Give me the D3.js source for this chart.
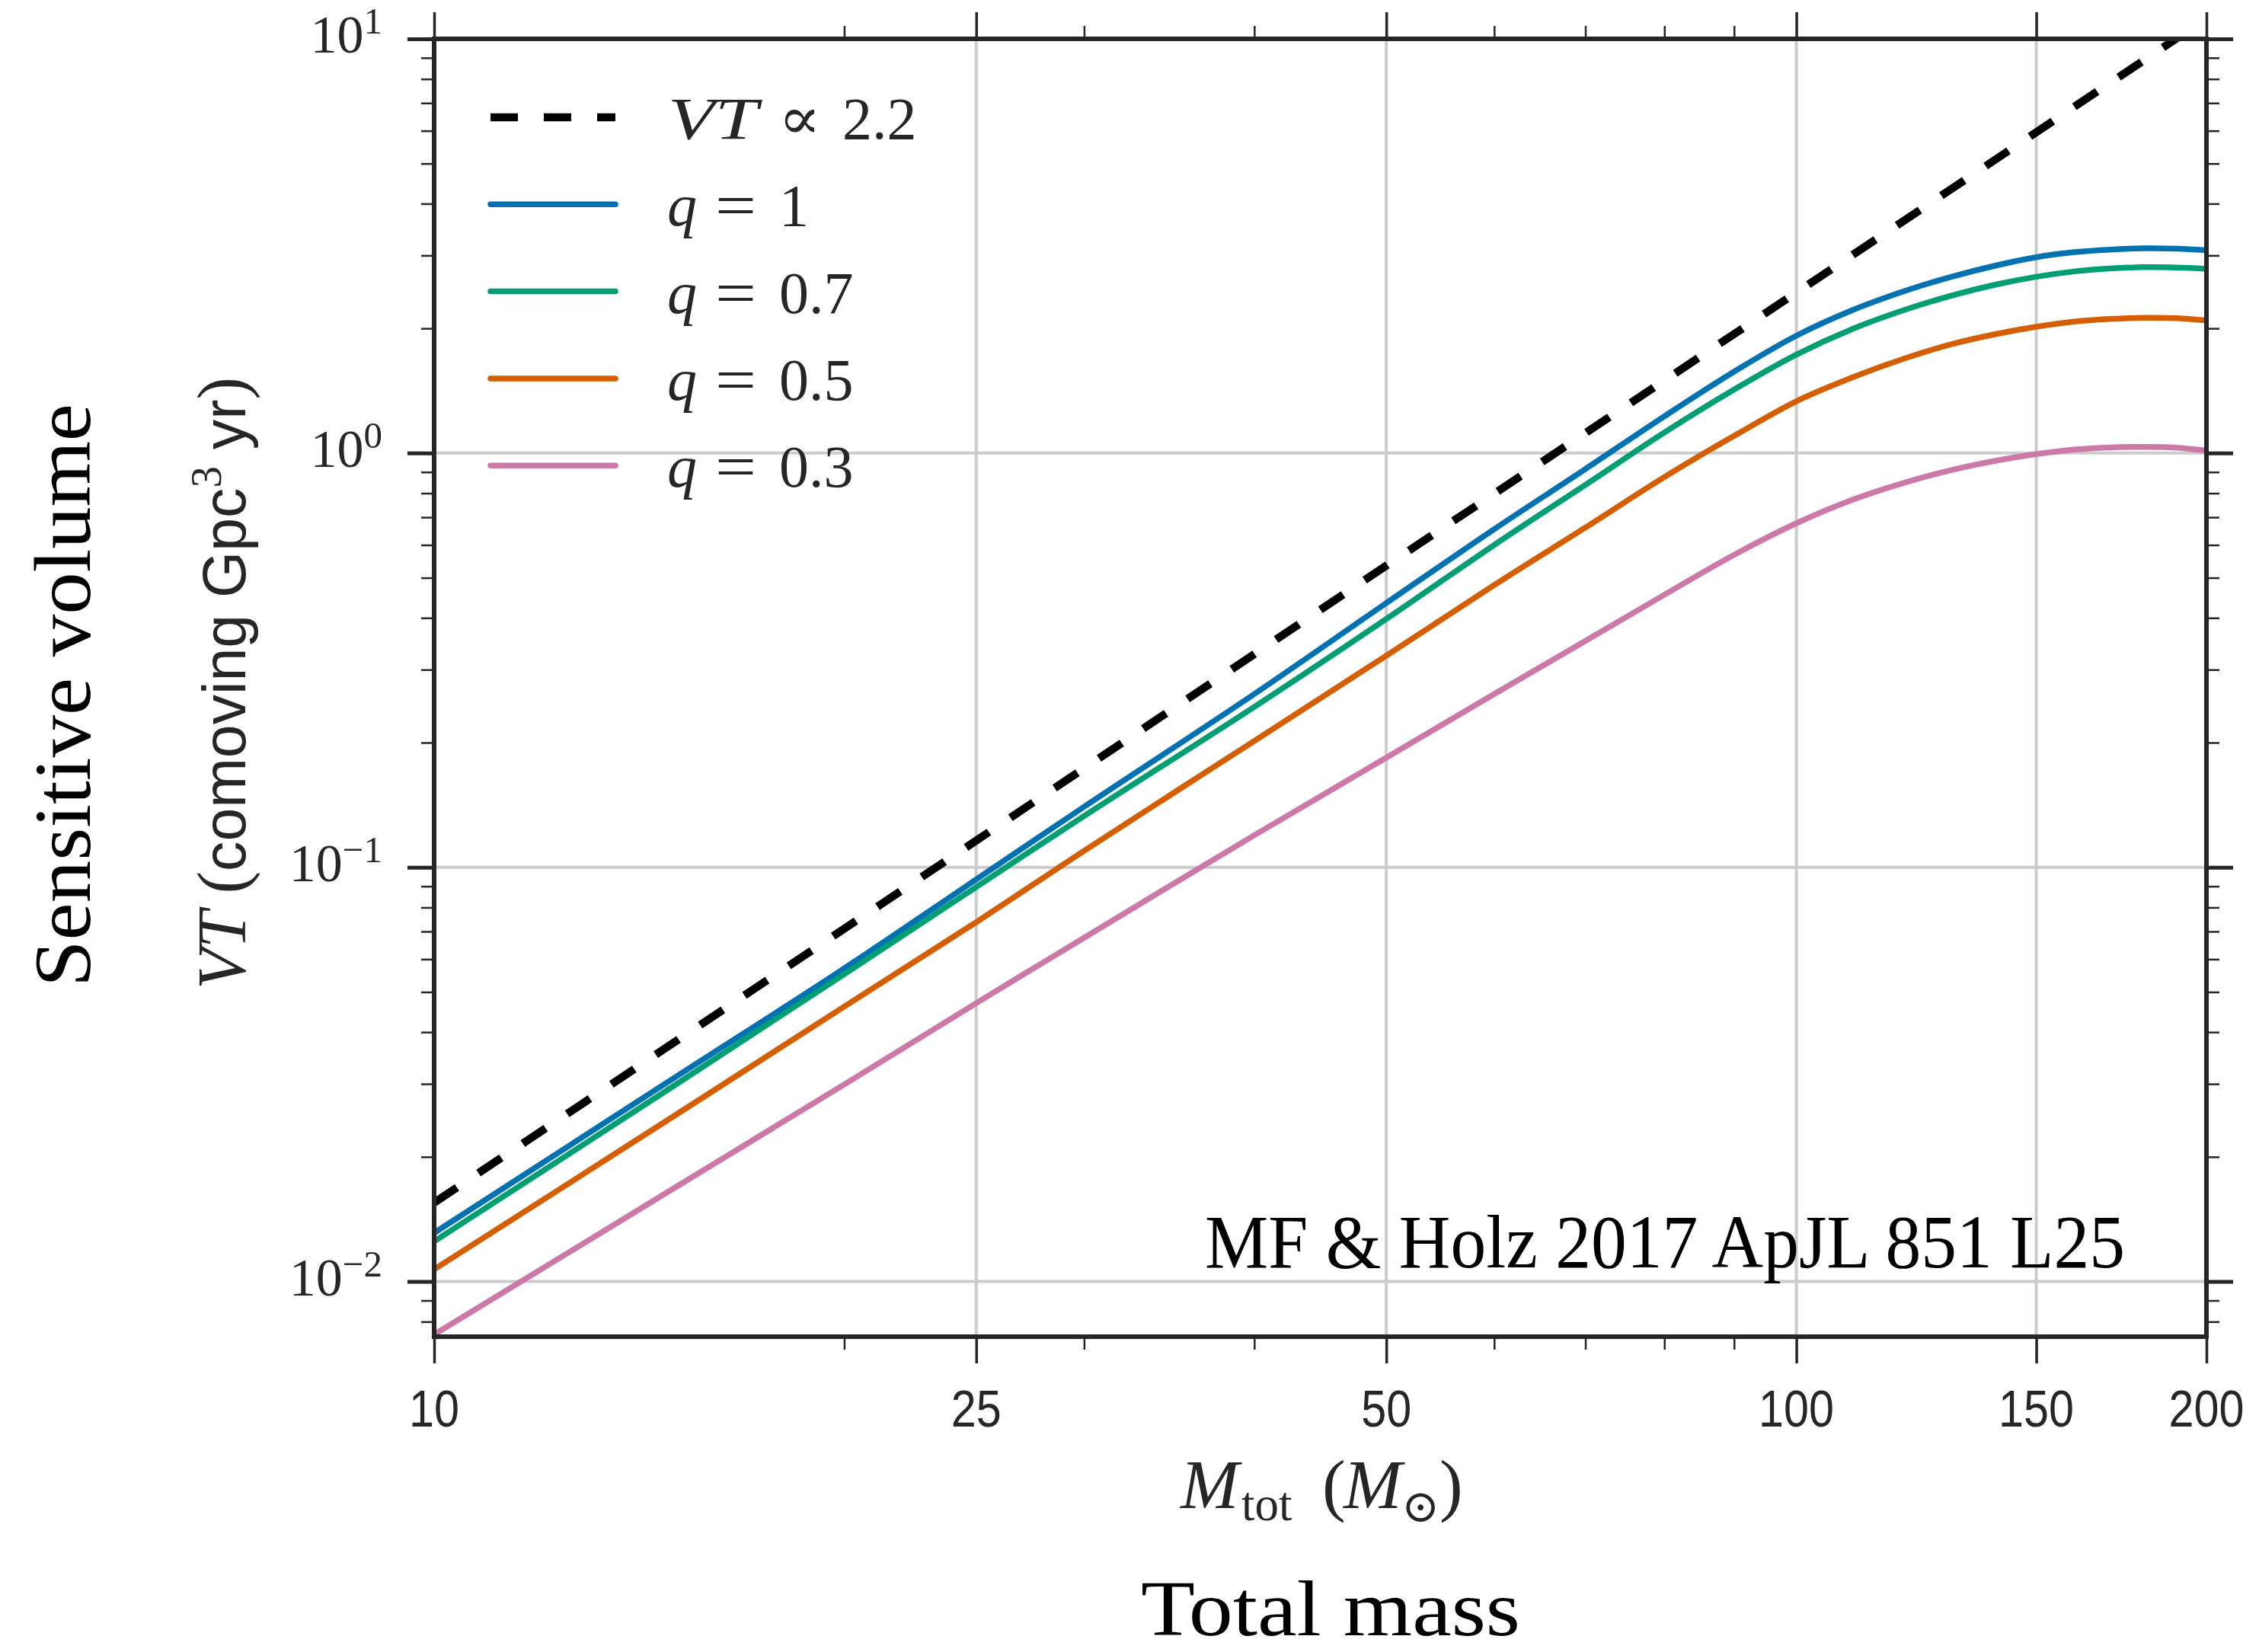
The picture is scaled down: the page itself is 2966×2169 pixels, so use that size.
<!DOCTYPE html>
<html>
<head>
<meta charset="utf-8">
<script src="https://cdn.jsdelivr.net/npm/d3@7"></script>
<style>
  body { margin: 0; background: #fff; }
  svg { display: block; }
</style>
</head>
<body>
<div id="chart"></div>
<script>
// Total mass grid (solar masses) and VT (comoving Gpc^3 yr)
const masses = [10, 15, 20, 25, 30, 40, 50, 60, 70, 80, 90, 100, 110, 120, 130, 140, 150, 160, 170, 180, 190, 200];
const vtQ1  = [0.0131, 0.031, 0.057, 0.0935, 0.140, 0.262, 0.4345, 0.655, 0.915, 1.227, 1.572, 1.920, 2.215, 2.46, 2.665, 2.835, 2.97, 3.055, 3.10, 3.12, 3.115, 3.09];
const vtQ07 = [0.0125, 0.0297, 0.0552, 0.0896, 0.133, 0.244, 0.3977, 0.600, 0.838, 1.121, 1.423, 1.728, 1.995, 2.215, 2.40, 2.55, 2.665, 2.745, 2.79, 2.81, 2.805, 2.785];
const vtQ05 = [0.0107, 0.0251, 0.0461, 0.0737, 0.1096, 0.2019, 0.3243, 0.48, 0.661, 0.875, 1.100, 1.334, 1.524, 1.691, 1.832, 1.937, 2.018, 2.077, 2.107, 2.121, 2.116, 2.089];
const vtQ03 = [0.00745, 0.0168, 0.0299, 0.0470, 0.0676, 0.1195, 0.184, 0.262, 0.352, 0.455, 0.568, 0.677, 0.772, 0.848, 0.910, 0.958, 0.994, 1.02, 1.032, 1.035, 1.031, 1.014];

// reference power law, VT ∝ M^2.2
const refMasses = [10, 25, 50, 100, 200];
const refVT = [0.0155, 0.116, 0.535, 2.44, 11.2];

const seriesValues = [vtQ1, vtQ07, vtQ05, vtQ03];
const seriesLabels = ['1', '0.7', '0.5', '0.3'];
const seriesColors = ['#0072b2', '#009e73', '#d55e00', '#cc79a7'];

const xTickValues = [10, 25, 50, 100, 150, 200];
const xMinorValues = [20, 30, 40, 60, 70, 80, 90];
const yTickExponents = [-2, -1, 0, 1];

const width = 2966;
const height = 2169;
const margin = { top: 51, right: 69, bottom: 414, left: 570 };
const ink = '#262626';
const gridColor = '#cccccc';
const serif = '"Liberation Serif", "DejaVu Serif", serif';
const sans = '"Liberation Sans", "DejaVu Sans", sans-serif';

const x = d3.scaleLog().domain([10, 200]).range([margin.left, width - margin.right]);
const y = d3.scaleLog().domain([0.00736, 10]).range([height - margin.bottom, margin.top]);
const [x0, x1] = x.range();
const [y0, y1] = y.range();

const yMajorValues = yTickExponents.map(e => Math.pow(10, e));
const yMinorValues = [];
for (let e = -3; e <= 0; e++) {
  for (let m = 2; m <= 9; m++) {
    const v = m * Math.pow(10, e);
    if (v >= y.domain()[0] && v <= y.domain()[1]) yMinorValues.push(v);
  }
}

const svg = d3.select('#chart')
  .append('svg')
  .attr('width', width)
  .attr('height', height)
  .attr('viewBox', `0 0 ${width} ${height}`);

svg.append('defs').append('clipPath')
  .attr('id', 'plot-clip')
  .append('rect')
  .attr('x', x0).attr('y', y1)
  .attr('width', x1 - x0).attr('height', y0 - y1);

// Grid
const grid = svg.append('g').attr('class', 'grid');
grid.selectAll('.vgrid')
  .data(xTickValues)
  .join('line')
  .attr('x1', d => x(d)).attr('x2', d => x(d))
  .attr('y1', y1).attr('y2', y0)
  .attr('stroke', gridColor).attr('stroke-width', 4);
grid.selectAll('.hgrid')
  .data(yMajorValues)
  .join('line')
  .attr('x1', x0).attr('x2', x1)
  .attr('y1', d => y(d)).attr('y2', d => y(d))
  .attr('stroke', gridColor).attr('stroke-width', 4);

// Curves
const plot = svg.append('g').attr('clip-path', 'url(#plot-clip)');

const refLine = d3.line()
  .x((d, i) => x(refMasses[i]))
  .y(d => y(d));

plot.append('path')
  .datum(refVT)
  .attr('d', refLine)
  .attr('fill', 'none')
  .attr('stroke', '#000')
  .attr('stroke-width', 10.5)
  .attr('stroke-dasharray', '36 34');

const curve = d3.line()
  .x((d, i) => x(masses[i]))
  .y(d => y(d))
  .curve(d3.curveCatmullRom.alpha(0.5));

plot.selectAll('.vt-curve')
  .data(seriesValues)
  .join('path')
  .attr('class', 'vt-curve')
  .attr('d', curve)
  .attr('fill', 'none')
  .attr('stroke', (d, i) => seriesColors[i])
  .attr('stroke-width', 7.5)
  .attr('stroke-linejoin', 'round')
  .attr('stroke-linecap', 'round');

// Frame
svg.append('rect')
  .attr('x', x0).attr('y', y1)
  .attr('width', x1 - x0).attr('height', y0 - y1)
  .attr('fill', 'none')
  .attr('stroke', ink)
  .attr('stroke-width', 6);

// Ticks on all four sides, pointing outwards
function addTicks(axis, transform, strokeWidth) {
  const g = svg.append('g')
    .attr('transform', transform)
    .call(axis.tickFormat('').tickSizeOuter(0));
  g.select('.domain').remove();
  g.selectAll('.tick line').attr('stroke', ink).attr('stroke-width', strokeWidth);
  return g;
}

addTicks(d3.axisBottom(x).tickValues(xTickValues).tickSize(35), `translate(0,${y0})`, 3.5);
addTicks(d3.axisBottom(x).tickValues(xMinorValues).tickSize(17), `translate(0,${y0})`, 2.5);
addTicks(d3.axisTop(x).tickValues(xTickValues).tickSize(35), `translate(0,${y1})`, 3.5);
addTicks(d3.axisTop(x).tickValues(xMinorValues).tickSize(17), `translate(0,${y1})`, 2.5);
addTicks(d3.axisLeft(y).tickValues(yMajorValues).tickSize(35), `translate(${x0},0)`, 5);
addTicks(d3.axisLeft(y).tickValues(yMinorValues).tickSize(17), `translate(${x0},0)`, 2.5);
addTicks(d3.axisRight(y).tickValues(yMajorValues).tickSize(35), `translate(${x1},0)`, 5);
addTicks(d3.axisRight(y).tickValues(yMinorValues).tickSize(17), `translate(${x1},0)`, 2.5);

// Tick labels
svg.selectAll('.xlabel')
  .data(xTickValues)
  .join('text')
  .attr('class', 'xlabel')
  .attr('x', d => x(d))
  .attr('y', y0 + 118)
  .attr('text-anchor', 'middle')
  .attr('font-family', sans)
  .attr('font-size', 68)
  .attr('fill', ink)
  .attr('textLength', d => String(d).length * 33)
  .attr('lengthAdjust', 'spacingAndGlyphs')
  .text(d => d);

const yLabels = svg.selectAll('.ylabel')
  .data(yTickExponents)
  .join('text')
  .attr('class', 'ylabel')
  .attr('x', x0 - 68)
  .attr('y', d => y(Math.pow(10, d)) + 18)
  .attr('text-anchor', 'end')
  .attr('font-family', serif)
  .attr('font-size', 70)
  .attr('fill', ink);
yLabels.append('tspan').text('10');
yLabels.append('tspan')
  .attr('dy', -25)
  .attr('font-size', 49)
  .text(d => d < 0 ? '\u2212' + Math.abs(d) : String(d));

// Axis labels
const xTitle = svg.append('text')
  .attr('y', 1980)
  .attr('font-family', serif)
  .attr('font-size', 92)
  .attr('fill', ink);
xTitle.append('tspan').attr('x', 1550).attr('font-style', 'italic').text('M');
xTitle.append('tspan').attr('x', 1630).attr('dy', 16).attr('font-size', 63).text('tot');
xTitle.append('tspan').attr('x', 1736).attr('dy', -16).text('(');
xTitle.append('tspan').attr('x', 1764).attr('font-style', 'italic').text('M');
xTitle.append('tspan').attr('x', 1840).attr('dy', 18).attr('font-size', 60).attr('font-family', '"DejaVu Serif", serif').text('\u2299');
xTitle.append('tspan').attr('x', 1890).attr('dy', -18).text(')');

const yTitle = svg.append('text')
  .attr('transform', 'translate(322,897) rotate(-90)')
  .attr('text-anchor', 'middle')
  .attr('font-family', serif)
  .attr('font-size', 90)
  .attr('fill', ink)
  .attr('textLength', 804)
  .attr('lengthAdjust', 'spacingAndGlyphs');
yTitle.append('tspan').attr('font-style', 'italic').text('VT');
yTitle.append('tspan').text('\u00a0(');
yTitle.append('tspan').attr('font-family', sans).attr('font-size', 80).text('comoving Gpc');
yTitle.append('tspan').attr('dy', -32).attr('font-size', 58).text('3');
yTitle.append('tspan').attr('dy', 32).attr('font-family', sans).attr('font-size', 80).text('\u00a0yr');
yTitle.append('tspan').text(')');

// Big plain-language titles
svg.append('text')
  .attr('x', 1747)
  .attr('y', 2147)
  .attr('text-anchor', 'middle')
  .attr('font-family', serif)
  .attr('font-size', 104)
  .attr('fill', '#000')
  .attr('textLength', 498)
  .attr('lengthAdjust', 'spacingAndGlyphs')
  .text('Total mass');

svg.append('text')
  .attr('transform', 'translate(118,913) rotate(-90)')
  .attr('text-anchor', 'middle')
  .attr('font-family', serif)
  .attr('font-size', 106)
  .attr('fill', '#000')
  .attr('textLength', 766)
  .attr('lengthAdjust', 'spacingAndGlyphs')
  .text('Sensitive volume');

// Citation
svg.append('text')
  .attr('x', 1582)
  .attr('y', 1664)
  .attr('font-family', serif)
  .attr('font-size', 100)
  .attr('fill', '#000')
  .attr('textLength', 1208)
  .attr('lengthAdjust', 'spacingAndGlyphs')
  .text('MF & Holz 2017 ApJL 851 L25');

// Legend
const legendTop = 154;
const legendStep = 114.3;
const legend = svg.append('g').attr('class', 'legend');

legend.append('line')
  .attr('x1', 644).attr('x2', 808)
  .attr('y1', legendTop).attr('y2', legendTop)
  .attr('stroke', '#000')
  .attr('stroke-width', 10.5)
  .attr('stroke-dasharray', '36 34');

const refText = legend.append('text')
  .attr('y', legendTop + 28)
  .attr('font-family', serif)
  .attr('font-size', 78)
  .attr('fill', ink);
refText.append('tspan').attr('x', 877).attr('font-style', 'italic')
  .attr('textLength', 118).attr('lengthAdjust', 'spacingAndGlyphs').text('VT');
refText.append('tspan').attr('x', 1022).attr('font-family', '"DejaVu Serif", serif').attr('font-size', 78)
  .attr('textLength', 56).attr('lengthAdjust', 'spacingAndGlyphs').text('\u221d');
refText.append('tspan').attr('x', 1106).text('2.2');

const rows = legend.selectAll('.legend-row')
  .data(seriesLabels)
  .join('g')
  .attr('class', 'legend-row')
  .attr('transform', (d, i) => `translate(0,${legendTop + legendStep * (i + 1)})`);

rows.append('line')
  .attr('x1', 644).attr('x2', 808)
  .attr('stroke', (d, i) => seriesColors[i])
  .attr('stroke-width', 7.5)
  .attr('stroke-linecap', 'round');

const rowText = rows.append('text')
  .attr('y', 28)
  .attr('font-family', serif)
  .attr('font-size', 78)
  .attr('fill', ink);
rowText.append('tspan').attr('x', 876).attr('font-style', 'italic').text('q');
rowText.append('tspan').attr('x', 939)
  .attr('textLength', 54).attr('lengthAdjust', 'spacingAndGlyphs').text('=');
rowText.append('tspan').attr('x', 1023).text(d => d);
</script>
</body>
</html>
